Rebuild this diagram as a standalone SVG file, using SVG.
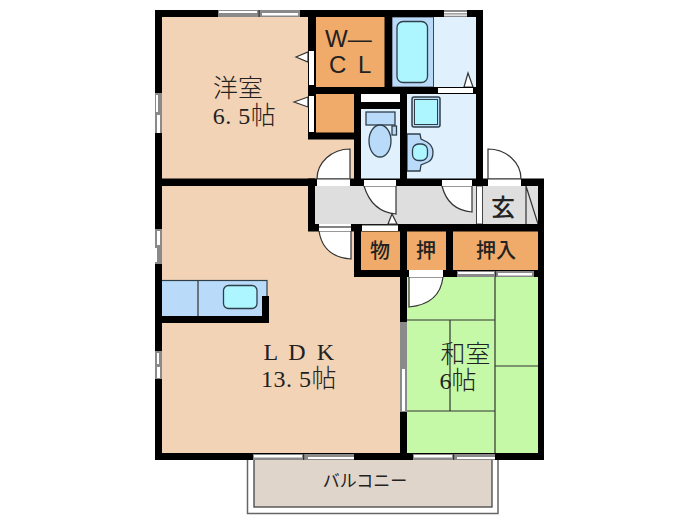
<svg xmlns="http://www.w3.org/2000/svg" width="700" height="525" viewBox="0 0 700 525">
<style>
.wall{fill:#000}
.ln{stroke:#333;stroke-width:1.2;fill:none}
.door{fill:#fff;stroke:#333;stroke-width:1.2}
.open{fill:#fff}
.win{fill:#8a8a8a}
.wg{fill:#fff}
.eq{stroke:#2f3f4a;stroke-width:1.3}
text{fill:#222;font-family:"Noto Sans CJK JP","Liberation Sans",sans-serif;text-anchor:middle}
.s{font-family:"Liberation Serif","Noto Sans CJK JP",serif;font-size:24px}
.j{font-family:"Noto Sans CJK JP",sans-serif;font-weight:300;font-size:25px}
.g{font-size:20px;font-weight:500}
.a{font-family:"Liberation Sans",sans-serif;font-size:24px;text-anchor:start}
</style>
<rect width="700" height="525" fill="#fff"/>
<g id="balcony"><rect x="247.500" y="455" width="250.500" height="58.500" fill="#fff" stroke="#666" stroke-width="1.500"/><rect x="254" y="455" width="238" height="52" fill="#e0d5cb" stroke="#444" stroke-width="1.300"/><text x="365" y="487" font-size="17">バルコニー</text></g>
<g id="room-yoshitsu"><rect x="160" y="15" width="156" height="167" fill="#f2d3b6"/><text class="j" x="238" y="97">洋室</text><text class="s" x="244.500" y="124" letter-spacing="0.500"><tspan>6. 5</tspan><tspan class="j">帖</tspan></text></g>
<g id="room-ldk"><rect x="160" y="183" width="245" height="272" fill="#f2d3b6"/><rect x="313" y="137" width="45" height="48" fill="#f2d3b6"/><text class="s" x="300" y="360" letter-spacing="2.500">L D K</text><text class="s" x="299" y="387" letter-spacing="0.500"><tspan>13. 5</tspan><tspan class="j">帖</tspan></text></g>
<g id="room-washitsu"><rect x="405" y="275" width="135" height="180" fill="#c5f9a8"/><path class="ln" d="M495 277V453M407 320H495M407 411H495M450 320V411M495 366H538"/><text class="j" x="465.500" y="363">和室</text><text class="s" x="458" y="389"><tspan>6</tspan><tspan class="j">帖</tspan></text></g>
<g id="closet-wcl"><rect x="313" y="15" width="74" height="73" fill="#f0aa6a"/><text class="a" x="325" y="47">W—</text><text class="a" x="329" y="73" word-spacing="5">C L</text></g>
<g id="closet-small"><rect x="313" y="92" width="43" height="43" fill="#f0aa6a"/></g>
<g id="bath"><rect x="390" y="15" width="88" height="75" fill="#e0f1fd"/><rect x="392" y="17" width="41.500" height="70" fill="#b9daf8" stroke="#445" stroke-width="1"/><rect x="397" y="21.500" width="30.500" height="61" rx="6" fill="#aef6ff" stroke="#2f3f4a" stroke-width="1.300"/><path class="door" d="M468 73L464 87H473Z"/></g>
<g id="toilet"><rect x="359" y="107" width="43" height="74" fill="#e0f1fd"/><rect x="366" y="112" width="29" height="13" fill="#b9daf8" class="eq"/><ellipse cx="380" cy="141" rx="11" ry="16" fill="#b9daf8" class="eq"/><rect x="392" y="126" width="4.500" height="9" fill="#b9daf8" class="eq"/></g>
<g id="washroom"><rect x="405" y="92" width="73" height="90" fill="#e0f1fd"/><rect x="412" y="97" width="28" height="30" rx="2" fill="#b9daf8" stroke="#2f3f4a" stroke-width="1.500"/><rect x="414.500" y="99.500" width="23" height="25" fill="#aef6ff" stroke="#2f3f4a" stroke-width="1"/><path d="M407 134H420L421 139L427 142Q433 146 433 152Q433 160 428 162L421 165L420 171H407Z" fill="#b9daf8" class="eq"/><rect x="412.500" y="144" width="15" height="16.500" rx="6" fill="#aef6ff" class="eq"/></g>
<g id="corridor"><rect x="313" y="184" width="227" height="42" fill="#dedede"/><rect x="476.500" y="186" width="6" height="38" fill="#fff" stroke="#444" stroke-width="1"/><path class="ln" d="M526 186V224M526 186L538 224"/><text x="503" y="216" font-size="24" font-weight="500">玄</text></g>
<g id="storage"><rect x="359" y="230" width="43" height="42" fill="#f0aa6a"/><rect x="405" y="230" width="43" height="42" fill="#f0aa6a"/><rect x="451" y="230" width="89" height="42" fill="#f0aa6a"/><text class="g" x="380" y="258">物</text><text class="g" x="426" y="258">押</text><text class="g" x="496" y="258">押入</text></g>
<g id="kitchen"><rect x="160" y="280.500" width="107" height="37" fill="#b9daf8" stroke="#2f3f4a" stroke-width="1.200"/><path class="ln" d="M198 281V317"/><rect x="223.500" y="285.500" width="33.500" height="23" rx="5" fill="#aef6ff" stroke="#2f3f4a" stroke-width="1.300"/></g>
<g id="walls">
<rect class="wall" x="155" y="10" width="328" height="7"/>
<rect class="wall" x="155" y="10" width="7" height="450"/>
<rect class="wall" x="476" y="10" width="7" height="176"/>
<rect class="wall" x="155" y="453" width="389" height="7"/>
<rect class="wall" x="538" y="179" width="6" height="281"/>
<rect class="wall" x="162" y="316" width="107" height="7"/>
<rect class="wall" x="262" y="296" width="7" height="27"/>
<rect class="wall" x="308" y="87" width="175" height="7"/>
<rect class="wall" x="354" y="87" width="7" height="93"/>
<rect class="wall" x="400" y="94" width="7" height="92"/>
<rect class="wall" x="308" y="10" width="8" height="129"/><rect class="wall" x="384.500" y="10" width="7.500" height="84"/>
<rect class="wall" x="308" y="132.500" width="53" height="7"/><rect class="wall" x="354" y="102" width="53" height="7"/>
<rect class="wall" x="155" y="178.500" width="389" height="7.500"/><rect class="wall" x="308" y="178.500" width="7" height="52"/>
<rect class="wall" x="308" y="224" width="236" height="7.500"/><rect class="wall" x="354" y="224" width="7" height="53"/><rect class="wall" x="400" y="224" width="7" height="236"/><rect class="wall" x="446" y="224" width="7" height="53"/><rect class="wall" x="354" y="270" width="190" height="7"/>
</g>
<g id="openings">
<rect class="open" x="361" y="94" width="39" height="8"/>
<path class="door" d="M350 179V149A33 30 0 0 0 317 179Z"/><rect class="open" x="317" y="179" width="33" height="7"/><path class="ln" d="M317 179H350"/>
<path class="door" d="M396 186V214Q372 212 364 186Z"/><rect class="open" x="364" y="180" width="32" height="6"/>
<path class="door" d="M472 186V212Q448 210 442 186Z"/><rect class="open" x="442" y="180" width="30" height="6"/>
<path class="door" d="M488 179V149A33 30 0 0 1 521 179Z"/><rect class="open" x="488" y="179" width="33" height="7"/><path class="ln" d="M488 179H521"/>
<path class="door" d="M351 231V259Q323 257 319 231Z"/><rect class="open" x="319" y="224" width="32" height="7"/><path class="ln" d="M319 227H351"/>
<path class="door" d="M409 277V307Q440 304 443 277Z"/><rect class="open" x="409" y="270" width="34" height="7"/>
<path class="door" d="M392 214L388 224H397Z"/><rect class="open" x="362" y="225" width="36" height="6"/><path class="ln" d="M362 225H398"/>
<rect class="open" x="438" y="88" width="35" height="5"/>
<rect class="open" x="309" y="51" width="5" height="34"/><rect class="open" x="309" y="96" width="5" height="36"/>
<path class="door" d="M296 57L308 52V62Z"/><path class="door" d="M294 102L308 97V107Z"/>
</g>
<g id="windows">
<rect class="win" x="218" y="10" width="82" height="7"/><rect class="wg" x="219" y="11" width="38" height="2"/><rect class="wg" x="262" y="13" width="36" height="2.500"/><rect x="258.500" y="10" width="1.200" height="7" fill="#333"/>
<rect class="win" x="444" y="10" width="23" height="7"/><rect class="wg" x="444" y="12" width="23" height="1.200"/><rect class="wg" x="444" y="14.500" width="23" height="1.200"/>
<rect class="win" x="155" y="93" width="7" height="40"/><rect class="wg" x="156" y="95" width="2" height="17"/><rect class="wg" x="157" y="115" width="3" height="18"/>
<rect class="win" x="155" y="229" width="7" height="35"/><rect class="wg" x="157" y="231" width="3" height="14"/><rect class="wg" x="155" y="248" width="2" height="14"/>
<rect class="win" x="155" y="351" width="7" height="28"/><rect class="wg" x="157" y="353" width="2" height="11"/><rect class="wg" x="157" y="367" width="3" height="11"/>
<rect class="win" x="253" y="454" width="101" height="6"/><rect class="wg" x="254" y="455" width="48" height="2.500"/><rect class="wg" x="308" y="457" width="46" height="2"/><rect x="303" y="454" width="1.200" height="6" fill="#333"/>
<rect class="win" x="413" y="454" width="82" height="6"/><rect class="wg" x="414" y="455" width="38" height="2.500"/><rect class="wg" x="457" y="457" width="38" height="2"/><rect x="453" y="454" width="1.200" height="6" fill="#333"/>
<rect class="win" x="400" y="322" width="7" height="90"/><rect class="wg" x="402" y="369" width="3" height="42"/>
<rect class="win" x="457" y="271" width="77" height="6"/><rect class="wg" x="458" y="272" width="36" height="2"/><rect class="wg" x="498" y="273" width="34" height="2.500"/><rect x="495" y="271" width="1.200" height="6" fill="#333"/>
</g>
</svg>
